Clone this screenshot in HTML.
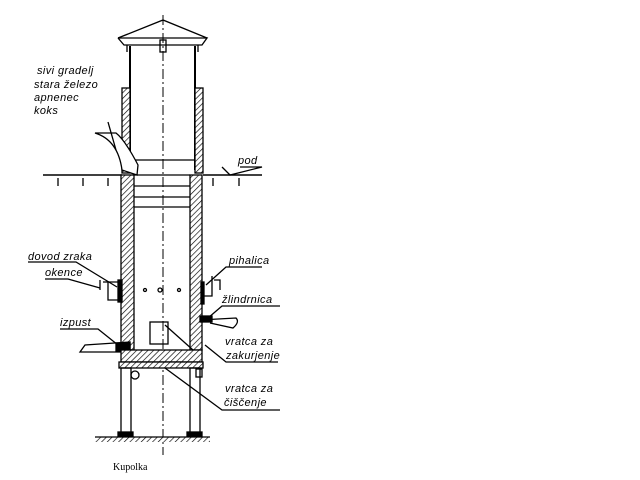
<!DOCTYPE html>
<html><head><meta charset="utf-8"><style>
html,body{margin:0;padding:0;background:#fff;width:640px;height:480px;overflow:hidden}
svg text{font-family:"Liberation Sans",sans-serif;font-style:italic;font-size:11px;fill:#000;letter-spacing:0.4px}
</style></head><body>
<svg width="640" height="480" viewBox="0 0 640 480" xmlns="http://www.w3.org/2000/svg">
<defs>
<pattern id="h" width="4" height="4" patternUnits="userSpaceOnUse" patternTransform="rotate(45)">
<rect width="4" height="4" fill="#fff"/><line x1="0" y1="0" x2="0" y2="4" stroke="#000" stroke-width="1.3"/>
</pattern>
</defs>
<g stroke="#000" fill="none" stroke-width="1.3">
<line x1="163" y1="15" x2="163" y2="455" stroke-dasharray="10,3,2,3" stroke-width="1"/>
<polyline points="118,38 163,20 207,38"/>
<polyline points="118,38 124,45 202,45 207,38 118,38"/>
<line x1="127" y1="45" x2="127" y2="52"/><line x1="198" y1="45" x2="198" y2="52"/>
<rect x="160" y="40" width="6" height="12"/>
<line x1="130" y1="46" x2="130" y2="170" stroke-width="2"/>
<line x1="195" y1="46" x2="195" y2="170" stroke-width="2"/>
<rect x="122" y="88" width="8" height="85" fill="url(#h)"/>
<rect x="195" y="88" width="8" height="85" fill="url(#h)"/>
<line x1="130" y1="160" x2="195" y2="160"/>
<path d="M95,133 Q118,140 122,170 L137,175 L138,165 Q125,140 116,133 Z" fill="#fff"/>
<line x1="108" y1="122" x2="116" y2="150"/>
<line x1="43" y1="175" x2="122" y2="175" stroke-width="1.6"/>
<line x1="203" y1="175" x2="262" y2="175" stroke-width="1.6"/>
<line x1="58" y1="178" x2="58" y2="186"/><line x1="83" y1="178" x2="83" y2="186"/><line x1="108" y1="178" x2="108" y2="186"/>
<line x1="213" y1="178" x2="213" y2="186"/><line x1="239" y1="178" x2="239" y2="186"/>
<polyline points="222,167 230,175 262,167 240,167"/>
<rect x="121" y="175" width="13" height="175" fill="url(#h)"/>
<rect x="190" y="175" width="12" height="175" fill="url(#h)"/>
<line x1="134" y1="175" x2="190" y2="175"/>
<line x1="134" y1="186" x2="190" y2="186"/>
<line x1="134" y1="197" x2="190" y2="197"/>
<line x1="134" y1="207" x2="190" y2="207"/>
<circle cx="145" cy="290" r="1.5"/><circle cx="160" cy="290" r="2"/><circle cx="179" cy="290" r="1.5"/>
<rect x="150" y="322" width="18" height="22"/>
<path d="M100,280 L100,290 M103,282 L120,282 M108,282 L108,300 L120,300"/>
<rect x="118" y="280" width="4" height="22" fill="#000"/>
<path d="M212,276 L212,296 L204,296 M214,280 L220,280 L220,290"/>
<rect x="201" y="282" width="3" height="22" fill="#000"/>
<path d="M200,320 L236,318 Q240,322 233,328 L210,323"/>
<rect x="200" y="316" width="12" height="6" fill="#000"/>
<path d="M80,352 L85,345 L130,342 L130,352 Z"/>
<rect x="116" y="343" width="14" height="8" fill="#000"/>
<rect x="121" y="350" width="81" height="12" fill="url(#h)"/>
<rect x="119" y="362" width="84" height="6" fill="url(#h)"/>
<circle cx="135" cy="375" r="4"/><rect x="196" y="369" width="6" height="8"/>
<rect x="121" y="368" width="10" height="67"/>
<rect x="190" y="368" width="10" height="67"/>
<rect x="118" y="432" width="15" height="5" fill="#000"/>
<rect x="187" y="432" width="15" height="5" fill="#000"/>
<rect x="95" y="437" width="115" height="5" fill="url(#h)" stroke="none"/>
<line x1="95" y1="437" x2="210" y2="437"/>
<polyline points="28,262 76,262 117,287"/>
<polyline points="45,279 68,279 100,288"/>
<polyline points="60,329 98,329 118,345"/>
<polyline points="262,267 226,267 206,285"/>
<polyline points="280,306 222,306 208,318"/>
<polyline points="278,362 226,362 205,345"/>
<polyline points="280,410 222,410 165,368"/>
<line x1="165" y1="325" x2="193" y2="350"/>
</g>
<text x="37" y="74">sivi gradelj</text>
<text x="34" y="88">stara železo</text>
<text x="34" y="101">apnenec</text>
<text x="34" y="114">koks</text>
<text x="238" y="164">pod</text>
<text x="28" y="260">dovod zraka</text>
<text x="45" y="276">okence</text>
<text x="60" y="326">izpust</text>
<text x="229" y="264">pihalica</text>
<text x="222" y="303">žlindrnica</text>
<text x="225" y="345">vratca za</text>
<text x="226" y="359">zakurjenje</text>
<text x="225" y="392">vratca za</text>
<text x="224" y="406">čiščenje</text>
<text x="113" y="470" style="font-family:'Liberation Serif',serif;font-style:normal;font-size:10px;letter-spacing:0">Kupolka</text>
</svg>
</body></html>
